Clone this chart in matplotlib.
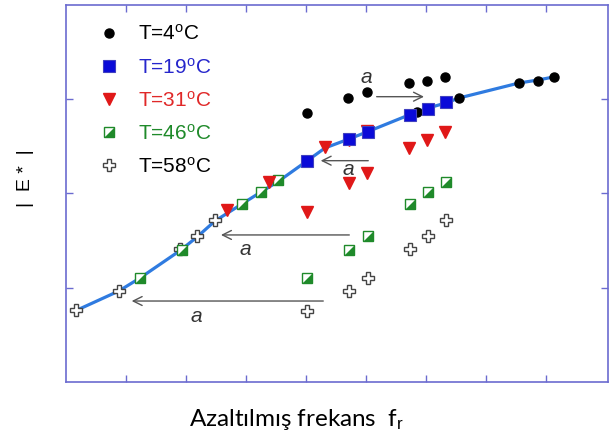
import numpy as np
import matplotlib
matplotlib.use('Agg')
import matplotlib.pyplot as plt
from matplotlib.legend_handler import HandlerTuple

plt.rcParams['font.family'] = ['Liberation Sans', 'DejaVu Sans']
plt.rcParams['mathtext.fontset'] = 'custom'
plt.rcParams['mathtext.rm'] = 'Liberation Sans'
plt.rcParams['mathtext.it'] = 'Liberation Sans:italic'


# data (log frequency, log |E*|)
# master curve
curve_x = [0.15, 0.883, 1.233, 1.917, 2.183, 2.483, 2.933, 3.25, 3.55, 4.017,
           4.317, 4.717, 5.017, 5.717, 6.033, 6.333, 6.55, 7.55, 7.867, 8.167]
curve_y = [0.753, 0.966, 1.103, 1.401, 1.538, 1.708, 1.889, 2.016, 2.133, 2.345,
           2.483, 2.578, 2.653, 2.833, 2.907, 2.960, 3.013, 3.172, 3.204, 3.241]

# T = 4 C
t4_x = [4.012, 4.705, 5.022, 5.717, 6.017, 6.317, 5.855, 6.55, 7.555, 7.862, 8.142]
t4_y = [2.857, 3.010, 3.074, 3.169, 3.197, 3.239, 2.862, 3.010, 3.169, 3.197, 3.239]

# T = 19 C (reference)
t19_x = [4.017, 4.717, 5.028, 5.728, 6.033, 6.328]
t19_y = [2.342, 2.575, 2.649, 2.836, 2.894, 2.966]

# T = 31 C
t31_x = [4.012, 4.717, 5.022, 5.717, 6.022, 6.317, 2.678, 3.387, 4.317, 4.717, 5.022]
t31_y = [1.804, 2.108, 2.221, 2.480, 2.568, 2.656, 1.820, 2.122, 2.488, 2.568, 2.663]

# T = 46 C
t46_x = [4.017, 4.717, 5.028, 5.733, 6.038, 6.328, 1.233, 1.928, 2.938, 3.25, 3.538]
t46_y = [1.107, 1.401, 1.549, 1.885, 2.013, 2.125, 1.107, 1.401, 1.885, 2.013, 2.138]

# T = 58 C
t58_x = [4.017, 4.717, 5.028, 5.733, 6.038, 6.328, 0.167, 0.888, 1.9, 2.178, 2.483]
t58_y = [0.756, 0.966, 1.100, 1.408, 1.549, 1.719, 0.764, 0.966, 1.411, 1.549, 1.719]

labels = ['T=4$^{\\rm o}$C', 'T=19$^{\\rm o}$C', 'T=31$^{\\rm o}$C',
          'T=46$^{\\rm o}$C', 'T=58$^{\\rm o}$C']
label_colors = ['black', '#2626cc', '#e02828', '#1f8a2a', 'black']

# shift arrows: (start x, end x, y) and label "a" position
arrow_x0 = [5.178, 5.038, 4.722, 4.288]
arrow_x1 = [5.967, 4.245, 2.583, 1.095]
arrow_y = [3.027, 2.348, 1.560, 0.859]
a_x = [5.0, 4.705, 2.983, 2.178]
a_y = [3.233, 2.257, 1.401, 0.700]


fig = plt.figure(figsize=(6.11, 4.37), dpi=100)
ax = fig.add_axes([0.108, 0.1259, 0.887, 0.8627])

axcol = '#6b6bd0'
green = '#1f8a2a'
tri = [(-1, -1), (1, -1), (1, 1)]

ax.plot(curve_x, curve_y, '-', color='#2f7be0', lw=2.3, zorder=2)

h58, = ax.plot(t58_x, t58_y, 'P', ls='none', ms=9, mfc='white', mec='#444444', mew=1.0, zorder=3)
h46a, = ax.plot(t46_x, t46_y, 's', ls='none', ms=7.5, mfc='white', mec=green, mew=1.0, zorder=4)
h46b, = ax.plot(t46_x, t46_y, marker=tri, ls='none', ms=7.5, mfc=green, mec=green, mew=0.5, zorder=4)
h31, = ax.plot(t31_x, t31_y, 'v', ls='none', ms=8.5, color='#e01818', zorder=5)
h4, = ax.plot(t4_x, t4_y, 'o', ls='none', ms=6.5, color='black', zorder=5)
h19, = ax.plot(t19_x, t19_y, 's', ls='none', ms=8, mfc='#0a0ad8', mec='#4040c0', mew=0.8, zorder=6)

for i in range(len(arrow_y)):
    ax.annotate('', xy=(arrow_x1[i], arrow_y[i]), xytext=(arrow_x0[i], arrow_y[i]),
                arrowprops=dict(arrowstyle='->', color='#555555', lw=1.0,
                                mutation_scale=16, shrinkA=0, shrinkB=0))
    ax.text(a_x[i], a_y[i], 'a', fontsize=15, style='italic', color='#333333',
            ha='center', va='center')

leg = ax.legend([h4, h19, h31, (h46a, h46b), h58], labels,
                handler_map={tuple: HandlerTuple(ndivide=1)},
                loc='upper left', frameon=False, numpoints=1, fontsize=15,
                labelcolor=label_colors, handlelength=1.0, handletextpad=0.85,
                labelspacing=0.63, borderaxespad=0.3, bbox_to_anchor=(0.034, 0.988))

ax.set_xlim(0, 9.033)
ax.set_ylim(0, 4)
ax.set_xticks(range(1, 9))
ax.set_yticks([1, 2, 3])
ax.tick_params(direction='in', length=5, width=1.0, color=axcol,
               top=True, right=True, labelbottom=False, labelleft=False)
for s in ax.spines.values():
    s.set_color(axcol)
    s.set_linewidth(1.2)

fig.text(0.041, 0.593, '|  E *  |', rotation=90, fontsize=14, ha='center', va='center')
fig.text(0.485, 0.04, 'Azaltılmış frekans  f$_{\\rm r}$', fontsize=17.5, ha='center',
         va='center', family=['Lato', 'DejaVu Sans'])

plt.savefig('out.png', dpi=100)
